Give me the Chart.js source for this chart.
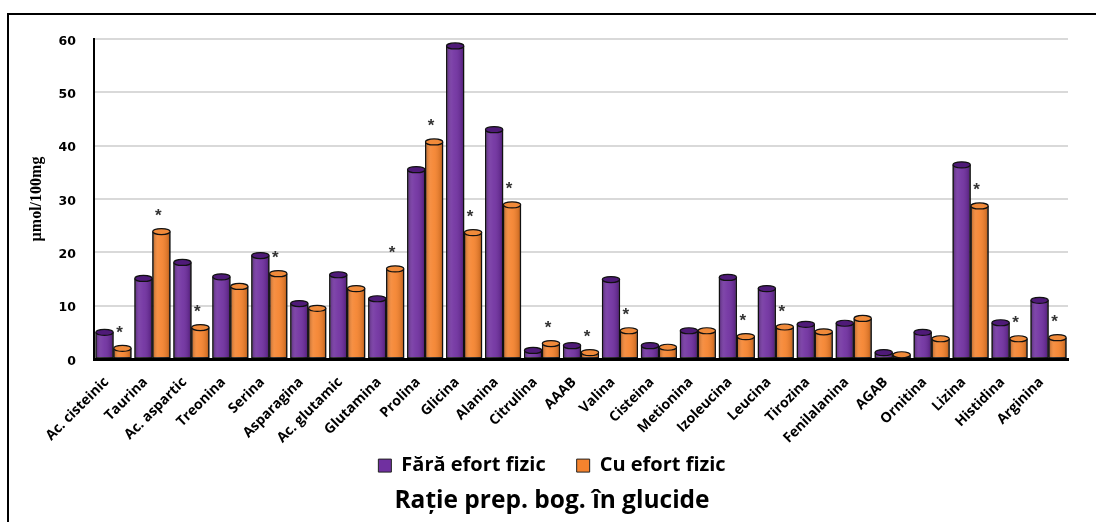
<!DOCTYPE html>
<html>
<head>
<meta charset="utf-8">
<script src="https://cdn.jsdelivr.net/npm/chart.js@4.4.0/dist/chart.umd.min.js"></script>
<style>
  html, body { margin: 0; padding: 0; background: #fff; }
  #wrap { position: relative; width: 1096px; height: 522px; overflow: hidden; }
  #frame { position: absolute; left: 7px; top: 13px; width: 1100px; height: 520px;
           border: 2px solid #000; box-sizing: border-box; pointer-events: none; }
  canvas { position: absolute; left: 0; top: 0; }
</style>
</head>
<body>
<div id="wrap">
  <canvas id="chart" width="1096" height="522"></canvas>
  <div id="frame"></div>
</div>
<script>
// Amino acids measured
const categories = [
  'Ac. cisteinic', 'Taurina', 'Ac. aspartic', 'Treonina', 'Serina', 'Asparagina',
  'Ac. glutamic', 'Glutamina', 'Prolina', 'Glicina', 'Alanina', 'Citrulina', 'AAAB',
  'Valina', 'Cisteina', 'Metionina', 'Izoleucina', 'Leucina', 'Tirozina',
  'Fenilalanina', 'AGAB', 'Ornitina', 'Lizina', 'Histidina', 'Arginina'
];

// µmol/100mg, group without physical effort
const faraEfort = [
  5.0, 15.1, 18.1, 15.4, 19.4, 10.4, 15.8, 11.3, 35.5, 58.7, 43.0, 1.6, 2.5,
  14.9, 2.5, 5.3, 15.3, 13.2, 6.5, 6.7, 1.2, 5.0, 36.4, 6.8, 11.0
];

// µmol/100mg, group with physical effort
const cuEfort = [
  2.0, 23.9, 5.9, 13.6, 16.0, 9.5, 13.2, 16.9, 40.7, 23.7, 28.9, 2.9, 1.2,
  5.3, 2.2, 5.3, 4.2, 6.0, 5.1, 7.6, 0.8, 3.8, 28.7, 3.8, 4.0
];

// statistically significant difference (marked with *)
const significant = [
  true, true, true, false, true, false, false, true, true, true, true, true, true,
  true, false, false, true, true, false, false, false, false, true, true, true
];

const yTicks = [0, 10, 20, 30, 40, 50, 60];

const seriesNames = ['Fără efort fizic', 'Cu efort fizic'];
const chartTitle = 'Rație prep. bog. în glucide';
const yTitle = 'µmol/100mg';

const PURPLE = '#7030a0';
const PURPLE_CAP = '#4f1a78';
const ORANGE = '#f5832e';
const ORANGE_CAP = '#f08a3a';

// Gives each bar a rounded, cylinder-like look: side shading plus a top cap
const cylinderPlugin = {
  id: 'cylinders',
  afterDatasetsDraw(chart) {
    const ctx = chart.ctx;
    chart.data.datasets.forEach((ds, di) => {
      const meta = chart.getDatasetMeta(di);
      const cap = di === 0 ? PURPLE_CAP : ORANGE_CAP;
      meta.data.forEach((bar) => {
        const p = bar.getProps(['x', 'y', 'base', 'width'], true);
        const l = p.x - p.width / 2;
        const r = p.x + p.width / 2;
        ctx.save();
        const g = ctx.createLinearGradient(l, 0, r, 0);
        g.addColorStop(0, 'rgba(0,0,0,0.30)');
        g.addColorStop(0.3, 'rgba(255,255,255,0.10)');
        g.addColorStop(0.5, 'rgba(255,255,255,0.06)');
        g.addColorStop(0.85, 'rgba(0,0,0,0.12)');
        g.addColorStop(1, 'rgba(0,0,0,0.35)');
        ctx.fillStyle = g;
        ctx.fillRect(l, p.y, p.width, p.base - p.y);
        ctx.strokeStyle = '#111';
        ctx.lineWidth = 1.2;
        ctx.beginPath();
        ctx.moveTo(l + 0.5, p.y); ctx.lineTo(l + 0.5, p.base);
        ctx.moveTo(r - 0.5, p.y); ctx.lineTo(r - 0.5, p.base);
        ctx.stroke();
        ctx.beginPath();
        ctx.ellipse(p.x, p.y, p.width / 2 - 0.3, 3, 0, 0, Math.PI * 2);
        ctx.fillStyle = cap;
        ctx.fill();
        ctx.stroke();
        ctx.restore();
      });
    });
  }
};

// Significance markers above the "Cu efort fizic" bars
const starPlugin = {
  id: 'stars',
  afterDatasetsDraw(chart) {
    const ctx = chart.ctx;
    const meta = chart.getDatasetMeta(1);
    ctx.save();
    ctx.font = 'bold 17px "Liberation Sans"';
    ctx.fillStyle = '#333';
    ctx.textAlign = 'center';
    ctx.textBaseline = 'alphabetic';
    const m = ctx.measureText('*');
    const mid = (m.actualBoundingBoxAscent - m.actualBoundingBoxDescent) / 2;
    significant.forEach((s, i) => {
      if (!s) return;
      const bar = meta.data[i];
      ctx.fillText('*', bar.x - 3, bar.y - 19 + mid);
    });
    ctx.restore();
  }
};

new Chart(document.getElementById('chart'), {
  type: 'bar',
  data: {
    labels: categories,
    datasets: [
      {
        label: seriesNames[0],
        data: faraEfort,
        backgroundColor: PURPLE,
        borderColor: '#222',
        borderWidth: 1,
        borderSkipped: false,
        categoryPercentage: 0.92,
        barPercentage: 1.0
      },
      {
        label: seriesNames[1],
        data: cuEfort,
        backgroundColor: ORANGE,
        borderColor: '#222',
        borderWidth: 1,
        borderSkipped: false,
        categoryPercentage: 0.92,
        barPercentage: 1.0
      }
    ]
  },
  options: {
    responsive: false,
    animation: false,
    devicePixelRatio: 1,
    layout: { padding: { left: 36, right: 28, top: 39, bottom: 0 } },
    plugins: {
      legend: {
        display: true,
        position: 'bottom',
        labels: {
          color: '#000',
          font: { family: 'Open Sans', weight: 'bold', size: 20 },
          boxWidth: 13,
          boxHeight: 13,
          padding: 31
        }
      },
      title: {
        display: true,
        position: 'bottom',
        text: chartTitle,
        color: '#000',
        font: { family: 'Open Sans', weight: 'bold', size: 24.5 },
        padding: { top: 1, bottom: 6 }
      },
      tooltip: { enabled: false }
    },
    scales: {
      x: {
        grid: { display: false },
        border: { display: true, color: '#000', width: 3 },
        ticks: {
          color: '#000',
          font: { family: 'Open Sans', weight: 'bold', size: 14 },
          maxRotation: 45,
          minRotation: 45,
          autoSkip: false,
          padding: 7,
          labelOffset: -7
        },
        afterFit(scale) {
          scale.height = 65.6;
          // let the slanted labels run below the axis box
          scale._computeLabelArea = () => undefined;
        }
      },
      y: {
        min: 0,
        max: 60,
        afterBuildTicks(scale) { scale.ticks = yTicks.map(v => ({ value: v })); },
        grid: { color: '#d9d9d9', lineWidth: 2, drawTicks: false },
        border: { display: true, color: '#000', width: 2 },
        ticks: {
          color: '#000',
          font: { family: 'DejaVu Sans', weight: 'bold', size: 12.5 },
          padding: 18,
          labelOffset: 2.5
        },
        title: {
          display: true,
          text: yTitle,
          color: '#000',
          font: { family: 'Liberation Serif', weight: 'bold', size: 16 },
          padding: { top: -8.6, bottom: 0 }
        },
        afterFit(scale) { scale.width = 58; }
      }
    }
  },
  plugins: [cylinderPlugin, starPlugin]
});
</script>
</body>
</html>
